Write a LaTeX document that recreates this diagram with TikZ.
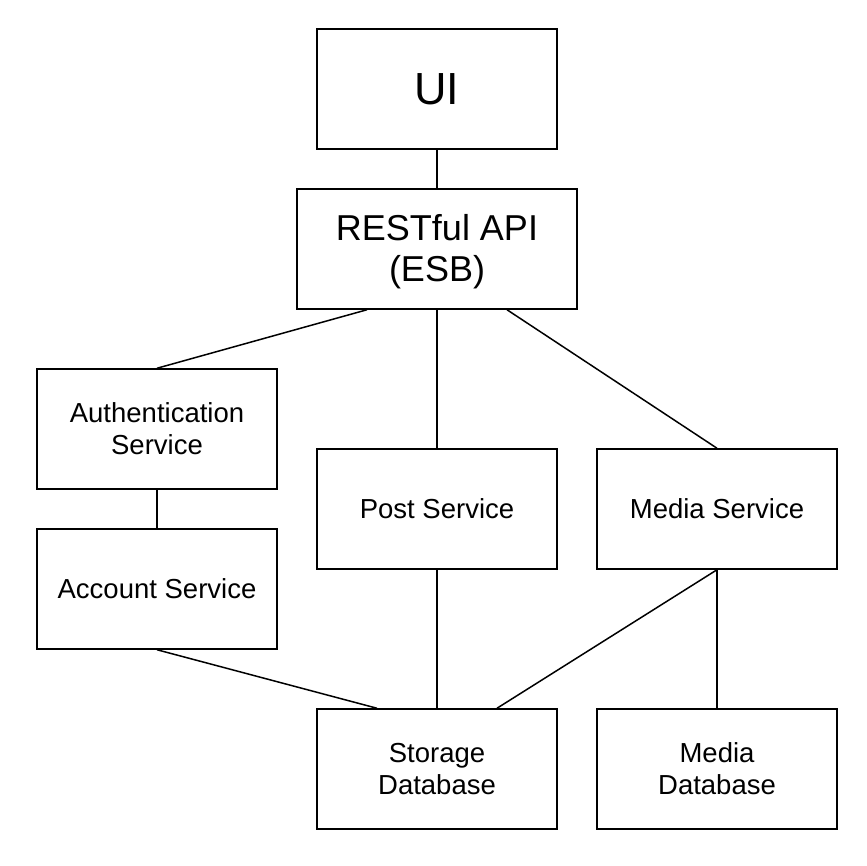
\documentclass[tikz,border=0pt]{standalone}
\usepackage{fontspec}
\setmainfont{Liberation Sans}
\usetikzlibrary{calc}
\begin{document}
\begin{tikzpicture}[x=1pt,y=-1pt,
  box/.style={draw,line width=1.5pt,minimum width=240pt,minimum height=120pt,inner sep=0pt,align=center,font=\fontsize{27.5}{32}\selectfont},
  wire/.style={line width=1.5pt}]
\useasboundingbox[fill=white] (0,0) rectangle (866,866);
\node[box,font=\fontsize{45}{52}\selectfont] (ui) at (437,89) {UI};
\node[box,minimum width=280pt,font=\fontsize{36}{41}\selectfont] (rest) at (437,249) {};
\node[align=center,font=\fontsize{36}{41}\selectfont,inner sep=0pt] (resttext) at (437,252) {RESTful API\\(ESB)};
\node[box] (auth) at (157,429) {Authentication\\Service};
\node[box] (post) at (437,509) {Post Service};
\node[box] (media) at (717,509) {Media Service};
\node[box] (account) at (157,589) {Account Service};
\node[box] (storage) at (437,769) {Storage\\Database};
\node[box] (mediadb) at (717,769) {Media\\Database};
\draw[wire] (ui.south) -- (rest.north);
\draw[wire] ($(rest.south)+(-70,0)$) -- (auth.north);
\draw[wire] (rest.south) -- (post.north);
\draw[wire] ($(rest.south)+(70,0)$) -- (media.north);
\draw[wire] (auth.south) -- (account.north);
\draw[wire] (account.south) -- ($(storage.north)+(-60,0)$);
\draw[wire] (post.south) -- (storage.north);
\draw[wire] (media.south) -- ($(storage.north)+(60,0)$);
\draw[wire] (media.south) -- (mediadb.north);
\end{tikzpicture}
\end{document}
